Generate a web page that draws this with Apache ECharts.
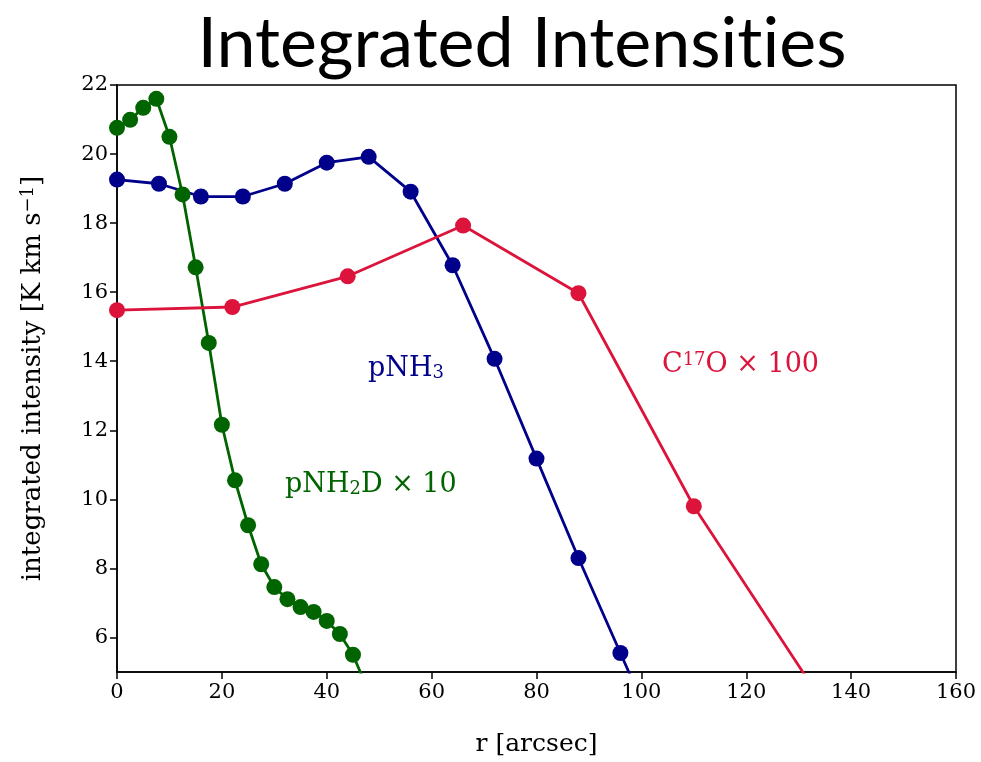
<!DOCTYPE html>
<html><head><meta charset="utf-8">
<script src="https://cdn.jsdelivr.net/npm/echarts@6/dist/echarts.min.js"></script>
<style>html,body{margin:0;padding:0;background:#fff}#c{width:981px;height:762px}</style>
</head><body><div id="c"></div>
<script>
// r [arcsec] and integrated intensity values
const rNH2D = [0,2.5,5,7.5,10,12.5,15,17.5,20,22.5,25,27.5,30,32.5,35,37.5,40,42.5,45,47.5];
const vNH2D = [20.76,20.99,21.34,21.6,20.5,18.83,16.72,14.53,12.16,10.55,9.25,8.12,7.46,7.11,6.88,6.74,6.48,6.1,5.5,4.6];
const rNH3 = [0,8,16,24,32,40,48,56,64,72,80,88,96,104];
const vNH3 = [19.26,19.14,18.77,18.77,19.14,19.75,19.92,18.91,16.78,14.07,11.18,8.3,5.55,2.8];
const rC17O = [0,22,44,66,88,110,132];
const vC17O = [15.48,15.57,16.46,17.93,15.97,9.8,4.72];
const yTicks = [6,8,10,12,14,16,18,20,22];
const xTicks = [0,20,40,60,80,100,120,140,160];

const zip = (a,b)=>a.map((x,i)=>[x,b[i]]);
const serif = "'DejaVu Serif', 'Liberation Serif', serif";
const chart = echarts.init(document.getElementById('c'), null, {renderer:'canvas'});
function mk(name, data, color){
  return {type:'line', name, data, symbol:'circle', symbolSize:16, clip:true,
    itemStyle:{color}, lineStyle:{color, width:2.8}, animation:false};
}
chart.setOption({
  backgroundColor:'#fff',
  animation:false,
  title:{text:'Integrated Intensit\u200Cies', left:522, top:9, padding:0, textAlign:'center',
    textStyle:{fontFamily:"Lato, 'Noto Sans', sans-serif", fontWeight:'normal', fontSize:70, color:'#000'}},
  grid:{left:117, right:25, top:85, bottom:89, show:true, borderColor:'#000', borderWidth:1.5, backgroundColor:'transparent'},
  xAxis:{type:'value', min:0, max:160, interval:20,
    name:'r [arcsec]', nameLocation:'middle', nameGap:60,
    nameTextStyle:{fontFamily:serif, fontSize:25, color:'#000'},
    axisLine:{show:true, onZero:false, lineStyle:{color:'#000', width:1.5}},
    axisTick:{show:true, length:7, lineStyle:{color:'#000', width:1.5}},
    axisLabel:{fontFamily:serif, fontSize:21, color:'#000', margin:10},
    splitLine:{show:false}},
  yAxis:{type:'value', min:5, max:22,
    name:'{a|integrated intensity [K km s}{s|−1}{a|]}', nameLocation:'middle', nameGap:70,
    nameTextStyle:{rich:{a:{fontFamily:serif, fontSize:26, color:'#000'}, s:{fontFamily:serif, fontSize:18, color:'#000', verticalAlign:'top', padding:[0,0,10,0]}}},
    axisLine:{show:true, onZero:false, lineStyle:{color:'#000', width:1.5}},
    axisTick:{show:true, length:7, customValues:yTicks, lineStyle:{color:'#000', width:1.5}},
    axisLabel:{fontFamily:serif, fontSize:21, color:'#000', margin:9, customValues:yTicks},
    splitLine:{show:false}},
  series:[
    mk('pNH2D', zip(rNH2D,vNH2D), '#006400'),
    mk('pNH3', zip(rNH3,vNH3), '#00008B'),
    mk('C17O', zip(rC17O,vC17O), '#DC143C')
  ],
  graphic:[
    {type:'text', left:368, top:355, style:{text:'{a|pNH}{b|3}', rich:{a:{fontFamily:serif, fontSize:27, fill:'#00008B'}, b:{fontFamily:serif, fontSize:18, fill:'#00008B', verticalAlign:'bottom', padding:[10,0,0,0]}}}},
    {type:'text', left:285, top:471, style:{text:'{a|pNH}{b|2}{a|D × 10}', rich:{a:{fontFamily:serif, fontSize:27, fill:'#006400'}, b:{fontFamily:serif, fontSize:18, fill:'#006400', verticalAlign:'bottom', padding:[10,0,0,0]}}}},
    {type:'text', left:662, top:351, style:{text:'{a|C}{b|17}{a|O × 100}', rich:{a:{fontFamily:serif, fontSize:27, fill:'#DC143C'}, b:{fontFamily:serif, fontSize:18, fill:'#DC143C', verticalAlign:'top', padding:[0,0,10,0]}}}}
  ]
});
</script></body></html>
